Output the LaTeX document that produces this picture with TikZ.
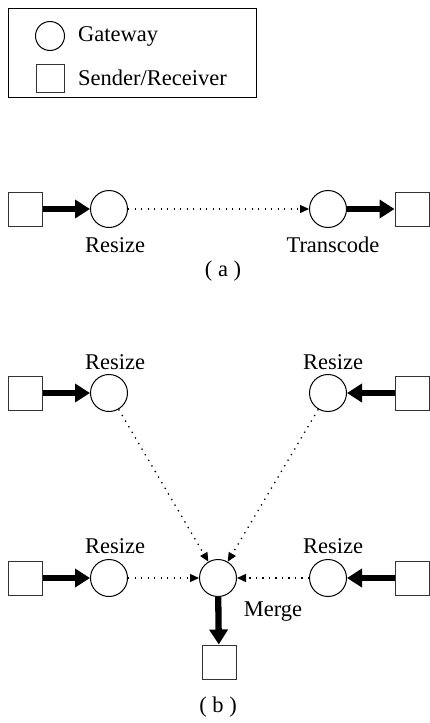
\documentclass[tikz,border=0pt]{standalone}
\usepackage{fontspec}
\setmainfont{Liberation Serif}
\usetikzlibrary{arrows.meta}
\begin{document}
\begin{tikzpicture}[x=1pt,y=-1pt,
  gw/.style={circle,draw,line width=1pt,minimum size=37pt,inner sep=0pt},
  sr/.style={rectangle,draw=black!80,line width=1pt,minimum size=34pt,inner sep=0pt},
  lbl/.style={font=\fontsize{22.5}{24}\selectfont,inner sep=0pt},
  flow/.style={line width=6.3pt,-{Triangle[length=15pt,width=18pt]}},
  link/.style={line width=1.3pt,dash pattern=on 1.3pt off 5.2pt,-{Triangle[length=9pt,width=8pt]}}]
\useasboundingbox (0,0) rectangle (429,723);

% legend
\node[draw,line width=1pt,minimum width=248pt,minimum height=89pt,inner sep=0pt,anchor=north west] (legend) at (8,8) {};
\node[gw,minimum size=29pt] (lgw) at (50,36) {};
\node[lbl,anchor=west] (lgwt) at (78,36) {Gateway};
\node[sr,minimum size=28pt] (lsr) at (50,78) {};
\node[lbl,anchor=west] (lsrt) at (78,78) {Sender/Receiver};

% (a)
\node[sr] (a1) at (25,209) {};
\node[gw] (a2) at (109,209) {};
\node[gw] (a3) at (328,209) {};
\node[sr] (a4) at (412,209) {};
\draw[flow] (a1) -- (a2);
\draw[link] (a2) -- (a3);
\draw[flow] (a3) -- (a4);
\node[lbl] (a2t) at (115,245) {Resize};
\node[lbl] (a3t) at (333,245) {Transcode};
\node[lbl] (acap) at (223,271) {( a )};

% (b)
\node[sr] (b1) at (25,393) {};
\node[gw] (b2) at (109,393) {};
\node[gw] (b3) at (328,393) {};
\node[sr] (b4) at (412,393) {};
\node[sr] (b5) at (25,578) {};
\node[gw] (b6) at (109,578) {};
\node[gw] (bm) at (218,578) {};
\node[gw] (b7) at (328,578) {};
\node[sr] (b8) at (412,578) {};
\node[sr] (b9) at (219,662) {};
\draw[flow] (b1) -- (b2);
\draw[flow] (b4) -- (b3);
\draw[flow] (b5) -- (b6);
\draw[flow] (b8) -- (b7);
\draw[flow] (bm) -- (b9);
\draw[link] (b2) -- (bm);
\draw[link] (b3) -- (bm);
\draw[link] (b6) -- (bm);
\draw[link] (b7) -- (bm);
\node[lbl] (b2t) at (115,362) {Resize};
\node[lbl] (b3t) at (333,362) {Resize};
\node[lbl] (b6t) at (115,546) {Resize};
\node[lbl] (b7t) at (333,546) {Resize};
\node[lbl] (bmt) at (273,612) {Merge};
\node[lbl] (bcap) at (218,707) {( b )};
\end{tikzpicture}
\end{document}
